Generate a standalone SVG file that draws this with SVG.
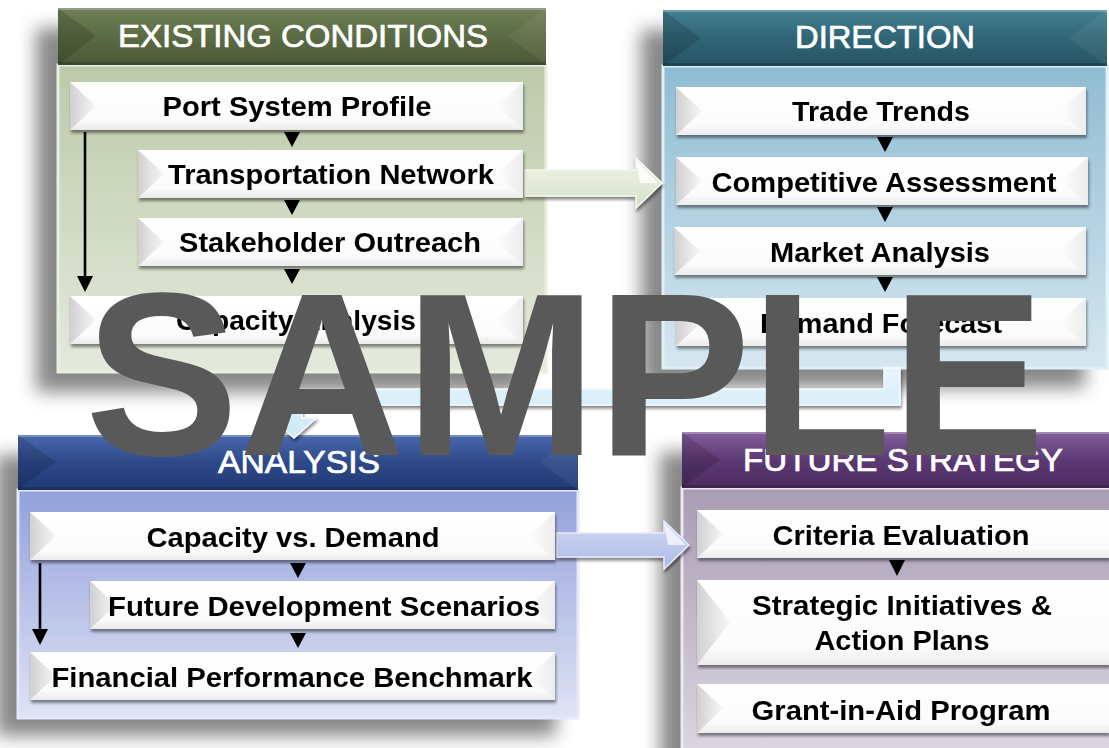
<svg xmlns="http://www.w3.org/2000/svg" width="1109" height="748" viewBox="0 0 1109 748">
  <defs>
    <filter id="panelShadow" x="-20%" y="-20%" width="140%" height="140%">
      <feGaussianBlur stdDeviation="9"/>
    </filter>
    <filter id="itemShadow" x="-5%" y="-20%" width="110%" height="150%">
      <feGaussianBlur in="SourceAlpha" stdDeviation="1.6"/>
      <feOffset dx="1" dy="3" result="o"/>
      <feComponentTransfer><feFuncA type="linear" slope="0.45"/></feComponentTransfer>
      <feMerge><feMergeNode/><feMergeNode in="SourceGraphic"/></feMerge>
    </filter>

    <!-- header gradients -->
    <linearGradient id="hdGreen" x1="0" y1="0" x2="0" y2="1">
      <stop offset="0" stop-color="#6f8057"/><stop offset="0.5" stop-color="#5b6b44"/><stop offset="1" stop-color="#4a5936"/>
    </linearGradient>
    <linearGradient id="hdTeal" x1="0" y1="0" x2="0" y2="1">
      <stop offset="0" stop-color="#428193"/><stop offset="0.5" stop-color="#316576"/><stop offset="1" stop-color="#265465"/>
    </linearGradient>
    <linearGradient id="hdBlue" x1="0" y1="0" x2="0" y2="1">
      <stop offset="0" stop-color="#4a68ab"/><stop offset="0.5" stop-color="#2e4989"/><stop offset="1" stop-color="#213a76"/>
    </linearGradient>
    <linearGradient id="hdPurple" x1="0" y1="0" x2="0" y2="1">
      <stop offset="0" stop-color="#85609c"/><stop offset="0.5" stop-color="#5c3972"/><stop offset="1" stop-color="#4c2c60"/>
    </linearGradient>

    <!-- body gradients -->
    <linearGradient id="bdGreen" x1="0" y1="0" x2="0" y2="1">
      <stop offset="0" stop-color="#bccaa9"/><stop offset="1" stop-color="#e4eadc"/>
    </linearGradient>
    <linearGradient id="bdTeal" x1="0" y1="0" x2="0" y2="1">
      <stop offset="0" stop-color="#8fbcd3"/><stop offset="1" stop-color="#d6e7f0"/>
    </linearGradient>
    <linearGradient id="bdBlue" x1="0" y1="0" x2="0" y2="1">
      <stop offset="0" stop-color="#93a1db"/><stop offset="1" stop-color="#dfe3f5"/>
    </linearGradient>
    <linearGradient id="bdPurple" x1="0" y1="0" x2="0" y2="1">
      <stop offset="0" stop-color="#a99cb4"/><stop offset="1" stop-color="#dcd8e1"/>
    </linearGradient>

    <!-- item bevels -->
    <linearGradient id="bevelL" x1="0" y1="0" x2="1" y2="0">
      <stop offset="0" stop-color="#d0d0d0"/><stop offset="1" stop-color="#f7f7f7"/>
    </linearGradient>
    <linearGradient id="bevelR" x1="1" y1="0" x2="0" y2="0">
      <stop offset="0" stop-color="#ececec"/><stop offset="1" stop-color="#fdfdfd"/>
    </linearGradient>
    <linearGradient id="boxFill" x1="0" y1="0" x2="0" y2="1">
      <stop offset="0" stop-color="#ffffff"/><stop offset="0.8" stop-color="#fbfbfb"/><stop offset="1" stop-color="#ebebeb"/>
    </linearGradient>

    <!-- connector fills -->
    <linearGradient id="arGreen" x1="0" y1="0" x2="0" y2="1">
      <stop offset="0" stop-color="#eef4e6"/><stop offset="1" stop-color="#d6e2c8"/>
    </linearGradient>
    <linearGradient id="arBlue" x1="0" y1="0" x2="0" y2="1">
      <stop offset="0" stop-color="#e6f5fc"/><stop offset="1" stop-color="#cde9f6"/>
    </linearGradient>
    <linearGradient id="arLav" x1="0" y1="0" x2="0" y2="1">
      <stop offset="0" stop-color="#d2d9f3"/><stop offset="1" stop-color="#aeb9e6"/>
    </linearGradient>

    <style>
      .shadow { fill: #6a6a6a; opacity: 0.8; filter: url(#panelShadow); }
      .title { font-family: "Liberation Sans", Arial, sans-serif; font-size: 31px; fill: #ffffff; stroke: #ffffff; stroke-width: 0.7px; text-anchor: middle; }
      .label { font-family: "Liberation Sans", Arial, sans-serif; font-size: 27px; font-weight: bold; fill: #000000; text-anchor: middle; }
      .box { fill: url(#boxFill); }
      .bl { fill: url(#bevelL); }
      .br { fill: url(#bevelR); }
      .item { filter: url(#itemShadow); }
      .hdBevelL { fill: #000000; opacity: 0.14; }
      .hdBevelR { fill: #ffffff; opacity: 0.06; }
      .hdTop { fill: #ffffff; opacity: 0.25; }
      .hdBottom { fill: #000000; opacity: 0.18; }
      .tri { fill: #000000; }
      .stem { stroke: #000000; stroke-width: 2.6; fill: none; }
      .mark { font-family: "Liberation Sans", Arial, sans-serif; font-size: 232px; font-weight: bold; fill: #595959; text-anchor: middle; }
    </style>
  </defs>

  <rect width="1109" height="748" fill="#ffffff"/>

  <!-- soft drop shadows behind the four panels -->
  <g id="panel-shadows">
    <rect class="shadow" x="36" y="28" width="488" height="364"/>
    <rect class="shadow" x="641" y="30" width="444" height="358"/>
    <rect class="shadow" x="-4" y="455" width="560" height="281"/>
    <rect class="shadow" x="660" y="452" width="440" height="320"/>
  </g>

  <!-- EXISTING CONDITIONS -->
  <g id="existing-conditions">
    <rect x="58" y="65" width="488" height="307" fill="url(#bdGreen)" stroke="#e8efe0" stroke-width="3"/>
    <rect x="58" y="8" width="488" height="57" fill="url(#hdGreen)"/>
    <path class="hdBevelL" d="M58,8 L96,36 L58,65 Z"/>
    <path class="hdBevelR" d="M546,8 L508,36 L546,65 Z"/>
    <rect class="hdTop" x="58" y="8" width="488" height="2"/>
    <rect class="hdBottom" x="58" y="62" width="488" height="3"/>
    <text class="title" x="303" y="47" textLength="370" lengthAdjust="spacingAndGlyphs">EXISTING CONDITIONS</text>
  </g>

  <!-- DIRECTION -->
  <g id="direction">
    <rect x="663" y="66" width="444" height="302" fill="url(#bdTeal)" stroke="#dff0f8" stroke-width="3"/>
    <rect x="663" y="10" width="444" height="56" fill="url(#hdTeal)"/>
    <path class="hdBevelL" d="M663,10 L701,38 L663,66 Z"/>
    <path class="hdBevelR" d="M1107,10 L1069,38 L1107,66 Z"/>
    <rect class="hdTop" x="663" y="10" width="444" height="2"/>
    <rect class="hdBottom" x="663" y="63" width="444" height="3"/>
    <text class="title" x="885" y="48" textLength="180" lengthAdjust="spacingAndGlyphs">DIRECTION</text>
  </g>

  <!-- ANALYSIS -->
  <g id="analysis">
    <rect x="18" y="490" width="560" height="228" fill="url(#bdBlue)" stroke="#e4e8fa" stroke-width="3"/>
    <rect x="18" y="435" width="560" height="55" fill="url(#hdBlue)"/>
    <path class="hdBevelL" d="M18,435 L56,462 L18,490 Z"/>
    <path class="hdBevelR" d="M578,435 L540,462 L578,490 Z"/>
    <rect class="hdTop" x="18" y="435" width="560" height="2"/>
    <rect class="hdBottom" x="18" y="487" width="560" height="3"/>
    <text class="title" x="299" y="473" textLength="162" lengthAdjust="spacingAndGlyphs">ANALYSIS</text>
  </g>

  <!-- FUTURE STRATEGY -->
  <g id="future-strategy">
    <rect x="682" y="488" width="440" height="270" fill="url(#bdPurple)" stroke="#ece8f0" stroke-width="3"/>
    <rect x="682" y="432" width="440" height="56" fill="url(#hdPurple)"/>
    <path class="hdBevelL" d="M682,432 L720,460 L682,488 Z"/>
    <rect class="hdTop" x="682" y="432" width="440" height="2"/>
    <rect class="hdBottom" x="682" y="485" width="440" height="3"/>
    <text class="title" x="903" y="471" textLength="320" lengthAdjust="spacingAndGlyphs">FUTURE STRATEGY</text>
  </g>

  <!-- connectors -->
  <g id="connectors">
    <!-- Transportation Network to Direction -->
    <path d="M525,170 L636,170 L636,158 L662,183 L636,208 L636,196 L525,196 Z" fill="url(#arGreen)" stroke="#f4f8ee" stroke-width="1.5" filter="url(#itemShadow)"/>
    <path d="M636,160 L658,183 L640,183 Z" fill="#ffffff" opacity="0.8"/>
    <!-- Direction down to Analysis -->
    <path d="M884,368 L900,368 L900,405 L302,405 L302,418 L316,418 L294,438 L272,418 L286,418 L286,389 L884,389 Z" fill="url(#arBlue)" stroke="#f6fbfe" stroke-width="1.5" filter="url(#itemShadow)"/>
    <!-- Capacity vs. Demand to Future Strategy -->
    <path d="M557,533 L664,533 L664,521 L689,545 L664,569 L664,557 L557,557 Z" fill="url(#arLav)" stroke="#e6eafa" stroke-width="1.5" filter="url(#itemShadow)"/>
    <path d="M664,523 L686,545 L668,545 Z" fill="#ffffff" opacity="0.7"/>

    <!-- flow within EXISTING CONDITIONS -->
    <path class="tri" d="M284,132 L300,132 L292,147 Z"/>
    <path class="tri" d="M284,200 L300,200 L292,215 Z"/>
    <path class="tri" d="M284,269 L300,269 L292,284 Z"/>
    <line class="stem" x1="85" y1="132" x2="85" y2="279"/>
    <path class="tri" d="M77,276 L93,276 L85,292 Z"/>

    <!-- flow within DIRECTION -->
    <path class="tri" d="M877,137 L893,137 L885,152 Z"/>
    <path class="tri" d="M877,207 L893,207 L885,222 Z"/>
    <path class="tri" d="M877,277 L893,277 L885,292 Z"/>

    <!-- flow within ANALYSIS -->
    <path class="tri" d="M290,563 L306,563 L298,578 Z"/>
    <path class="tri" d="M290,633 L306,633 L298,648 Z"/>
    <line class="stem" x1="40" y1="563" x2="40" y2="632"/>
    <path class="tri" d="M32,629 L48,629 L40,645 Z"/>

    <!-- flow within FUTURE STRATEGY -->
    <path class="tri" d="M889,560 L905,560 L897,576 Z"/>
  </g>

  <!-- EXISTING CONDITIONS steps -->
  <g id="n-port-system-profile" class="item">
    <rect class="box" x="70" y="82" width="453" height="48"/>
    <path class="bl" d="M70,82 L96,106 L70,130 Z"/><path class="br" d="M523,82 L497,106 L523,130 Z"/>
    <text class="label" x="297" y="116" textLength="269" lengthAdjust="spacingAndGlyphs">Port System Profile</text>
  </g>
  <g id="n-transportation-network" class="item">
    <rect class="box" x="138" y="150" width="385" height="48"/>
    <path class="bl" d="M138,150 L164,174 L138,198 Z"/><path class="br" d="M523,150 L497,174 L523,198 Z"/>
    <text class="label" x="331" y="184" textLength="326" lengthAdjust="spacingAndGlyphs">Transportation Network</text>
  </g>
  <g id="n-stakeholder-outreach" class="item">
    <rect class="box" x="138" y="218" width="385" height="48"/>
    <path class="bl" d="M138,218 L164,242 L138,266 Z"/><path class="br" d="M523,218 L497,242 L523,266 Z"/>
    <text class="label" x="330" y="252" textLength="302" lengthAdjust="spacingAndGlyphs">Stakeholder Outreach</text>
  </g>
  <g id="n-capacity-analysis" class="item">
    <rect class="box" x="70" y="296" width="453" height="48"/>
    <path class="bl" d="M70,296 L96,320 L70,344 Z"/><path class="br" d="M523,296 L497,320 L523,344 Z"/>
    <text class="label" x="296" y="330" textLength="240" lengthAdjust="spacingAndGlyphs">Capacity Analysis</text>
  </g>

  <!-- DIRECTION steps -->
  <g id="n-trade-trends" class="item">
    <rect class="box" x="676" y="87" width="410" height="48"/>
    <path class="bl" d="M676,87 L702,111 L676,135 Z"/><path class="br" d="M1086,87 L1060,111 L1086,135 Z"/>
    <text class="label" x="881" y="121" textLength="178" lengthAdjust="spacingAndGlyphs">Trade Trends</text>
  </g>
  <g id="n-competitive-assessment" class="item">
    <rect class="box" x="676" y="157" width="412" height="48"/>
    <path class="bl" d="M676,157 L702,181 L676,205 Z"/><path class="br" d="M1088,157 L1062,181 L1088,205 Z"/>
    <text class="label" x="884" y="192" textLength="345" lengthAdjust="spacingAndGlyphs">Competitive Assessment</text>
  </g>
  <g id="n-market-analysis" class="item">
    <rect class="box" x="674" y="227" width="412" height="48"/>
    <path class="bl" d="M674,227 L700,251 L674,275 Z"/><path class="br" d="M1086,227 L1060,251 L1086,275 Z"/>
    <text class="label" x="880" y="262" textLength="220" lengthAdjust="spacingAndGlyphs">Market Analysis</text>
  </g>
  <g id="n-demand-forecast" class="item">
    <rect class="box" x="676" y="298" width="410" height="48"/>
    <path class="bl" d="M676,298 L702,322 L676,346 Z"/><path class="br" d="M1086,298 L1060,322 L1086,346 Z"/>
    <text class="label" x="881" y="333" textLength="242" lengthAdjust="spacingAndGlyphs">Demand Forecast</text>
  </g>

  <!-- ANALYSIS steps -->
  <g id="n-capacity-vs-demand" class="item">
    <rect class="box" x="30" y="512" width="525" height="48"/>
    <path class="bl" d="M30,512 L56,536 L30,560 Z"/><path class="br" d="M555,512 L529,536 L555,560 Z"/>
    <text class="label" x="293" y="547" textLength="293" lengthAdjust="spacingAndGlyphs">Capacity vs. Demand</text>
  </g>
  <g id="n-future-development-scenarios" class="item">
    <rect class="box" x="90" y="581" width="465" height="48"/>
    <path class="bl" d="M90,581 L116,605 L90,629 Z"/><path class="br" d="M555,581 L529,605 L555,629 Z"/>
    <text class="label" x="324" y="616" textLength="432" lengthAdjust="spacingAndGlyphs">Future Development Scenarios</text>
  </g>
  <g id="n-financial-performance-benchmark" class="item">
    <rect class="box" x="30" y="652" width="525" height="48"/>
    <path class="bl" d="M30,652 L56,676 L30,700 Z"/><path class="br" d="M555,652 L529,676 L555,700 Z"/>
    <text class="label" x="292" y="687" textLength="481" lengthAdjust="spacingAndGlyphs">Financial Performance Benchmark</text>
  </g>

  <!-- FUTURE STRATEGY steps -->
  <g id="n-criteria-evaluation" class="item">
    <rect class="box" x="697" y="510" width="412" height="48"/>
    <path class="bl" d="M697,510 L723,534 L697,558 Z"/>
    <text class="label" x="901" y="545" textLength="257" lengthAdjust="spacingAndGlyphs">Criteria Evaluation</text>
  </g>
  <g id="n-strategic-initiatives" class="item">
    <rect class="box" x="697" y="580" width="412" height="85"/>
    <path class="bl" d="M697,580 L730,622 L697,665 Z"/>
    <text class="label" x="902" y="615" textLength="300" lengthAdjust="spacingAndGlyphs">Strategic Initiatives &amp;</text>
    <text class="label" x="902" y="650" textLength="175" lengthAdjust="spacingAndGlyphs">Action Plans</text>
  </g>
  <g id="n-grant-in-aid-program" class="item">
    <rect class="box" x="697" y="684" width="412" height="49"/>
    <path class="bl" d="M697,684 L723,708 L697,733 Z"/>
    <text class="label" x="901" y="720" textLength="299" lengthAdjust="spacingAndGlyphs">Grant-in-Aid Program</text>
  </g>

  <!-- watermark -->
  <text class="mark" x="565" y="455" textLength="960" lengthAdjust="spacingAndGlyphs">SAMPLE</text>
</svg>
